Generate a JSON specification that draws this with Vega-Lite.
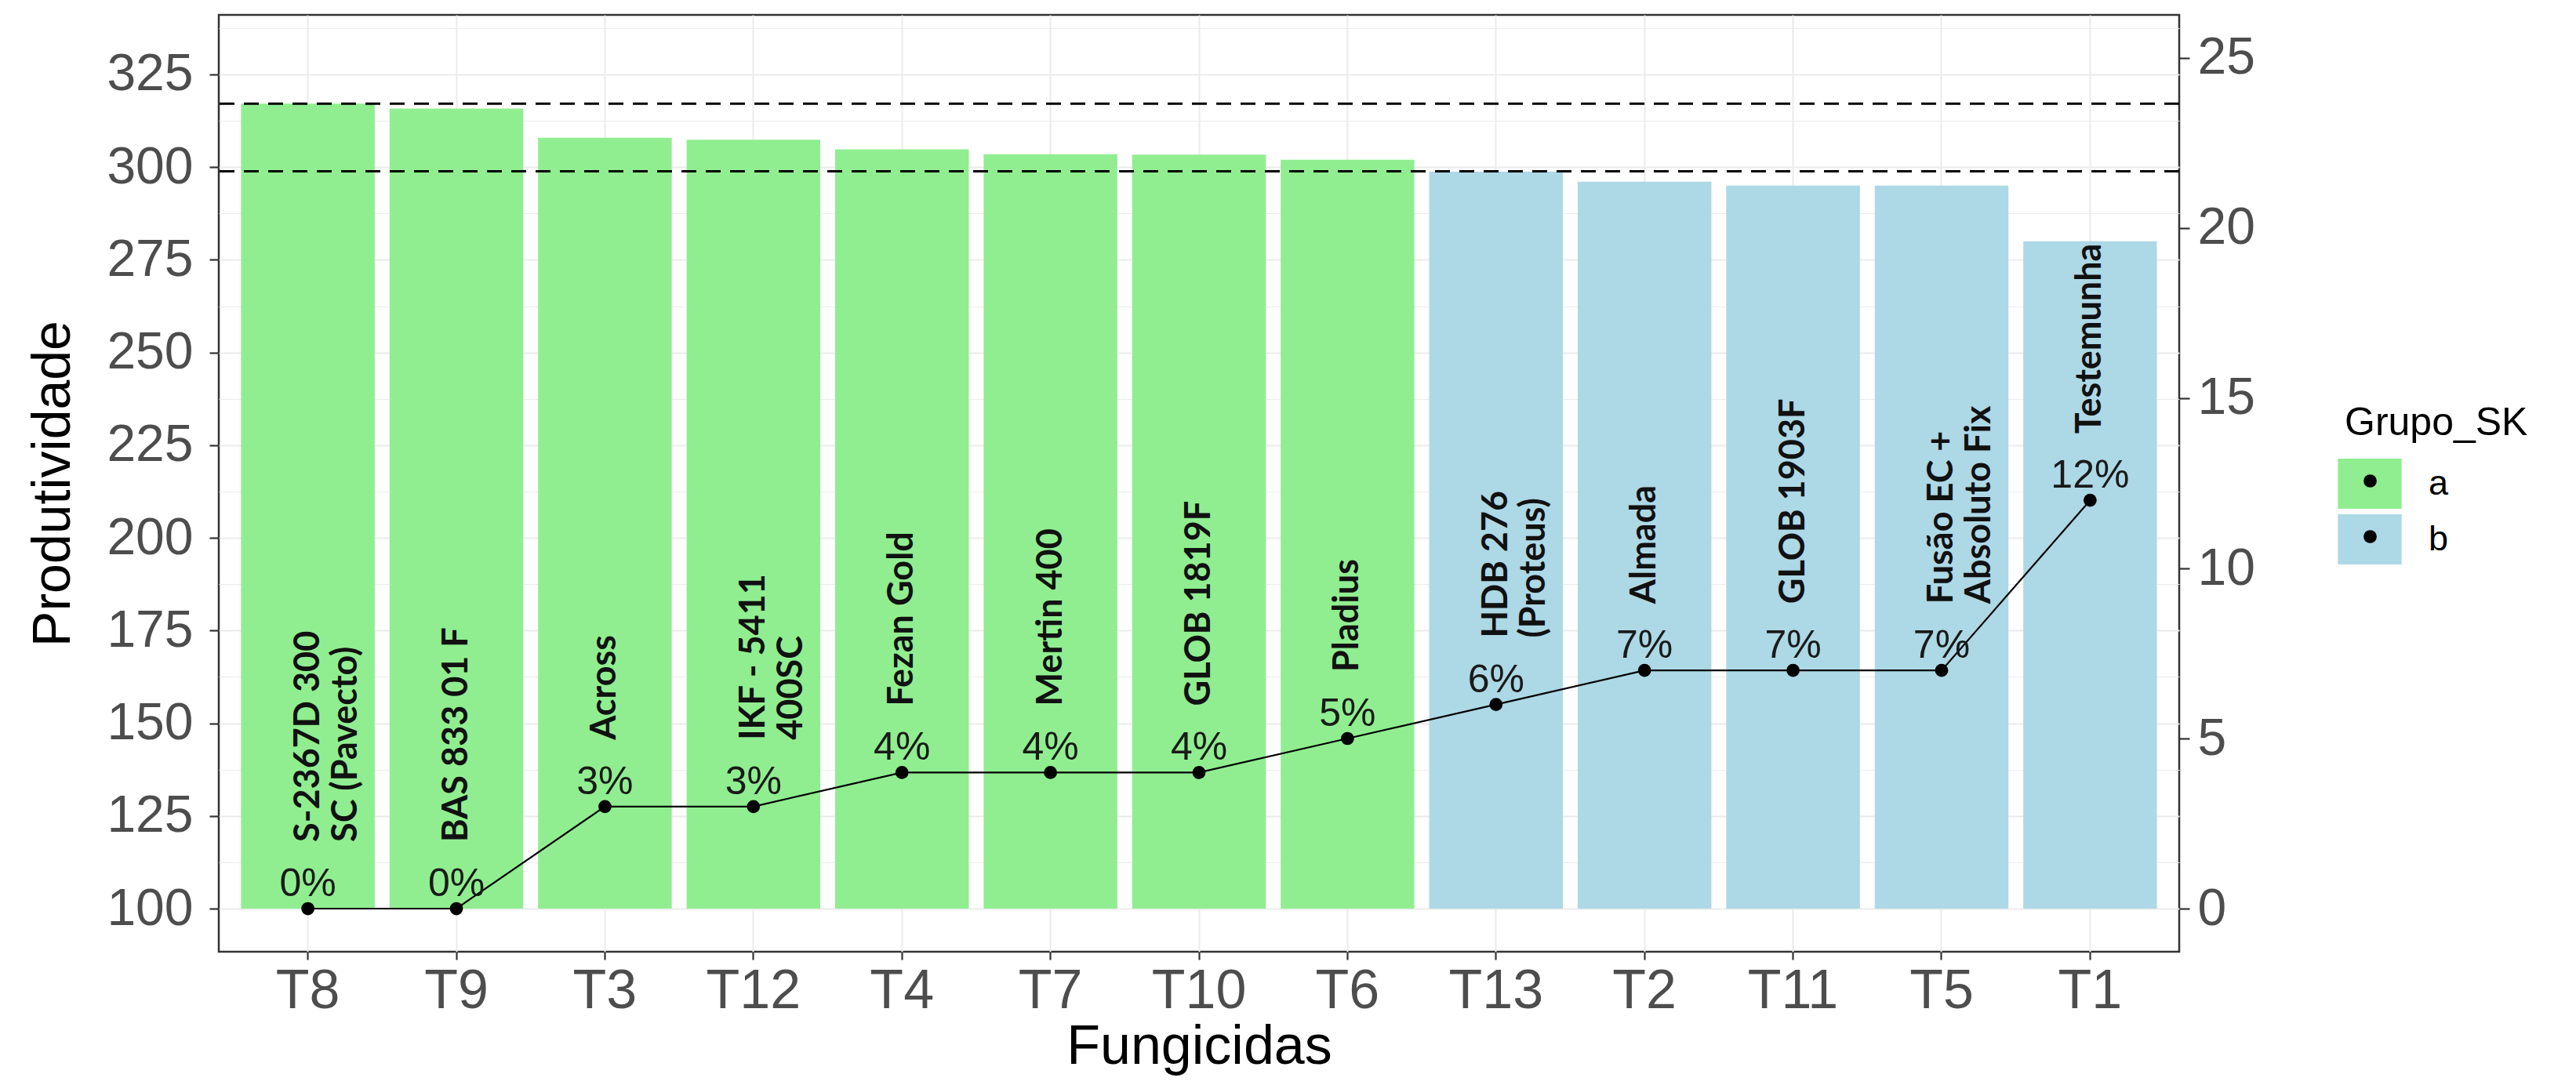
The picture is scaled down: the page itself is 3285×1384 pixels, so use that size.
{
  "$schema": "https://vega.github.io/schema/vega-lite/v6.json",
  "width": 2500,
  "height": 1195,
  "autosize": {"type": "none"},
  "padding": {"left": 279, "top": 19, "right": 506, "bottom": 170},
  "background": "white",
  "config": {
    "font": "Liberation Sans",
    "view": {"stroke": "#333333", "strokeWidth": 2.5},
    "axis": {"domain": false, "tickColor": "#333333", "tickWidth": 2.2, "labelColor": "#4d4d4d", "titleColor": "#000000", "titleFontWeight": "normal", "gridColor": "#EBEBEB"}
  },
  "data": {
    "values": [
      {"trat": "T8", "prod": 317.1, "pct": 0, "lbl": "0%", "grupo": "a", "nome": "S-2367D 300\nSC (Pavecto)"},
      {"trat": "T9", "prod": 315.8, "pct": 0, "lbl": "0%", "grupo": "a", "nome": "BAS 833 01 F"},
      {"trat": "T3", "prod": 307.9, "pct": 3, "lbl": "3%", "grupo": "a", "nome": "Across"},
      {"trat": "T12", "prod": 307.4, "pct": 3, "lbl": "3%", "grupo": "a", "nome": "IKF - 5411\n400SC"},
      {"trat": "T4", "prod": 304.8, "pct": 4, "lbl": "4%", "grupo": "a", "nome": "Fezan Gold"},
      {"trat": "T7", "prod": 303.5, "pct": 4, "lbl": "4%", "grupo": "a", "nome": "Mertin 400"},
      {"trat": "T10", "prod": 303.4, "pct": 4, "lbl": "4%", "grupo": "a", "nome": "GLOB 1819F"},
      {"trat": "T6", "prod": 302.0, "pct": 5, "lbl": "5%", "grupo": "a", "nome": "Pladius"},
      {"trat": "T13", "prod": 298.8, "pct": 6, "lbl": "6%", "grupo": "b", "nome": "HDB 276\n(Proteus)"},
      {"trat": "T2", "prod": 296.1, "pct": 7, "lbl": "7%", "grupo": "b", "nome": "Almada"},
      {"trat": "T11", "prod": 295.0, "pct": 7, "lbl": "7%", "grupo": "b", "nome": "GLOB 1903F"},
      {"trat": "T5", "prod": 295.0, "pct": 7, "lbl": "7%", "grupo": "b", "nome": "Fusão EC +\nAbsoluto Fix"},
      {"trat": "T1", "prod": 280.0, "pct": 12, "lbl": "12%", "grupo": "b", "nome": "Testemunha"}
    ]
  },
  "layer": [
    {
      "layer": [
        {
          "mark": {"type": "bar"},
          "encoding": {
            "x": {
              "field": "trat", "type": "nominal",
              "sort": ["T8", "T9", "T3", "T12", "T4", "T7", "T10", "T6", "T13", "T2", "T11", "T5", "T1"],
              "scale": {"paddingInner": 0.1, "paddingOuter": 0.15},
              "axis": {"title": "Fungicidas", "labelAngle": 0, "labelFontSize": 70, "titleFontSize": 70, "tickSize": 10, "labelPadding": 6, "titlePadding": 2, "grid": true, "gridWidth": 2, "bandPosition": 0.5, "labelColor": "#4d4d4d", "titleColor": "#000000"}
            },
            "y": {
              "field": "prod", "type": "quantitative",
              "scale": {"domain": [88.37, 341.07], "nice": false, "zero": false},
              "axis": {
                "orient": "left", "title": "Produtividade", "titleFontSize": 68, "titlePadding": 33,
                "values": [100, 112.5, 125, 137.5, 150, 162.5, 175, 187.5, 200, 212.5, 225, 237.5, 250, 262.5, 275, 287.5, 300, 312.5, 325, 337.5],
                "labelExpr": "datum.value % 25 === 0 ? datum.label : ''",
                "tickOpacity": {"condition": {"test": "datum.value % 25 !== 0", "value": 0}, "value": 1},
                "gridWidth": {"condition": {"test": "datum.value % 25 !== 0", "value": 1.2}, "value": 2.2},
                "grid": true, "labelFontSize": 66, "tickSize": 12, "labelPadding": 21, "labelColor": "#4d4d4d"
              }
            },
            "y2": {"datum": 100},
            "color": {
              "field": "grupo", "type": "nominal",
              "scale": {"domain": ["a", "b"], "range": ["#90EE90", "#ADD8E6"]},
              "legend": {
                "orient": "none", "legendX": 2711, "legendY": 496, "title": "Grupo_SK",
                "titleFontSize": 50, "titleFontWeight": "normal", "titleColor": "#000000", "titlePadding": 20, "titleLimit": 600,
                "labelFontSize": 45, "labelColor": "#000000", "labelOffset": 43,
                "symbolType": "M-1.27,-1H1.27V1H-1.27Z", "symbolSize": 4096, "symbolStrokeWidth": 0, "symbolOpacity": 1,
                "rowPadding": 7, "padding": 0
              }
            }
          }
        },
        {
          "data": {"values": [{"ref": 317.1}, {"ref": 298.9}]},
          "mark": {"type": "rule", "strokeDash": [19, 12], "strokeWidth": 3, "color": "#000000"},
          "encoding": {"y": {"field": "ref", "type": "quantitative"}}
        }
      ]
    },
    {
      "encoding": {
        "x": {"field": "trat", "type": "nominal", "sort": ["T8", "T9", "T3", "T12", "T4", "T7", "T10", "T6", "T13", "T2", "T11", "T5", "T1"]},
        "y": {
          "field": "pct", "type": "quantitative",
          "scale": {"domain": [-1.267, 26.267], "nice": false, "zero": false},
          "axis": {"orient": "right", "title": null, "values": [0, 5, 10, 15, 20, 25], "grid": false, "labelFontSize": 66, "tickSize": 13, "labelPadding": 10, "labelColor": "#4d4d4d"}
        }
      },
      "layer": [
        {
          "mark": {"type": "line", "color": "#000000", "strokeWidth": 2.2},
          "encoding": {"order": {"value": null}}
        },
        {
          "mark": {"type": "point", "filled": true, "color": "#000000", "size": 280, "opacity": 1},
          "encoding": {
            "shape": {
              "field": "grupo", "type": "nominal",
              "scale": {"range": ["circle", "circle"]},
              "legend": {
                "orient": "none", "legendX": 2735, "legendY": 586, "title": null,
                "labelExpr": "''", "labelFontSize": 1, "symbolSize": 280,
                "symbolFillColor": "#000000", "symbolStrokeWidth": 0, "symbolOpacity": 1,
                "rowPadding": 54, "padding": 0, "zindex": 2
              }
            }
          }
        },
        {
          "mark": {"type": "text", "fontSize": 50, "align": "center", "baseline": "alphabetic", "dy": -16, "color": "#1a1a1a"},
          "encoding": {"text": {"field": "lbl", "type": "nominal"}}
        },
        {
          "mark": {"type": "text", "angle": 270, "align": "left", "baseline": "middle", "dx": 85, "font": "Lato", "fontWeight": "bold", "fontSize": 45, "lineBreak": "\n", "lineHeight": 48, "color": "#111111"},
          "encoding": {"text": {"field": "nome", "type": "nominal"}}
        }
      ]
    }
  ],
  "resolve": {"scale": {"y": "independent"}}
}
